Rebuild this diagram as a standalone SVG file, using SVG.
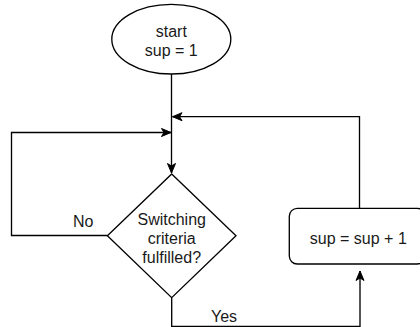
<svg xmlns="http://www.w3.org/2000/svg" width="420" height="327" viewBox="0 0 420 327">
<style>
.shape{fill:#fff;stroke:#000;stroke-width:1.33}
.conn{fill:none;stroke:#000;stroke-width:1.33}
.t{font-family:"Liberation Sans",Arial,sans-serif;font-size:16px;fill:#1a1a1a;text-anchor:middle}
</style>
<defs>
<marker id="arr" markerUnits="userSpaceOnUse" markerWidth="11" markerHeight="10" viewBox="0 0 11 10" refX="10" refY="5" orient="auto">
<path d="M0.5,1 L10,5 L0.5,9 L3,5 Z" fill="#000" stroke="#000" stroke-width="1"/>
</marker>
</defs>
<rect width="420" height="327" fill="#fff"/>
<g id="connectors">
<path class="conn" d="M171.5,74 L171.5,173" marker-end="url(#arr)"/>
<path class="conn" d="M107.5,235.5 L11.5,235.5 L11.5,132.5 L171,132.5" marker-end="url(#arr)"/>
<path class="conn" d="M171.7,298 L171.7,326.5 L360,326.5 L360,271" marker-end="url(#arr)"/>
<path class="conn" d="M359.5,208.5 L359.5,116.7 L172.5,116.7" marker-end="url(#arr)"/>
<text class="t" x="83.3" y="226.7">No</text>
<text class="t" x="224" y="321.5">Yes</text>
</g>
<g id="start">
<ellipse class="shape" cx="171.3" cy="39.2" rx="59.5" ry="34.8"/>
<text class="t" x="171.3" y="37">start</text>
<text class="t" x="171.3" y="56.2">sup = 1</text>
</g>
<g id="decision">
<polygon class="shape" points="171.7,174 236,235.8 171.7,297.7 107.4,235.8"/>
<text class="t" x="171.7" y="225">Switching</text>
<text class="t" x="171.7" y="244.2">criteria</text>
<text class="t" x="171.7" y="263.4">fulfilled?</text>
</g>
<g id="increment">
<rect class="shape" x="289.3" y="208.3" width="136" height="55.7" rx="8" ry="8"/>
<text class="t" x="358.3" y="243.5">sup = sup + 1</text>
</g>
</svg>
